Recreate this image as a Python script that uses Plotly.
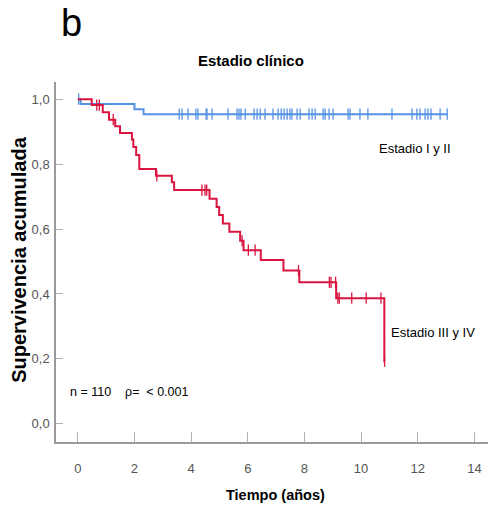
import plotly.graph_objects as go

# ---- data ----
blue_event_t = [0.10, 2.00, 2.32]
blue_event_s = [0.985, 0.969, 0.954]
blue_censor_t = [0.03, 3.58, 3.68, 3.89, 4.17, 4.24, 4.53, 4.56, 4.74, 5.30, 5.62, 5.69, 5.76,
                 5.91, 6.22, 6.33, 6.44, 6.61, 6.89, 7.07, 7.18, 7.28, 7.39, 7.49, 7.56, 7.74,
                 7.85, 8.16, 8.27, 8.38, 8.66, 8.73, 8.87, 9.01, 9.54, 9.61, 9.96, 10.24,
                 11.09, 11.80, 11.97, 12.08, 12.26, 12.36, 12.47, 12.79, 13.04]

red_event_t = [0.49, 0.88, 1.10, 1.32, 1.49, 1.91, 1.96, 2.06, 2.17, 2.76, 3.32, 3.40,
               4.65, 4.90, 4.99, 5.12, 5.35, 5.73, 5.85, 6.46, 7.26, 7.82, 9.12, 10.82]
red_event_s = [0.982, 0.960, 0.937, 0.917, 0.896, 0.876, 0.853, 0.828, 0.785, 0.764, 0.744, 0.720,
               0.693, 0.668, 0.643, 0.617, 0.592, 0.564, 0.535, 0.505, 0.472, 0.436, 0.387, 0.193]
red_censor_t = [0.67, 0.76, 1.25, 2.79, 4.38, 4.49, 4.55, 5.80, 6.02, 6.26, 7.79, 8.88, 8.94,
                9.10, 9.18, 9.23, 9.67, 10.18, 10.70, 10.83]

x_ticks = [0, 2, 4, 6, 8, 10, 12, 14]
y_ticks = [0.0, 0.2, 0.4, 0.6, 0.8, 1.0]
y_tick_text = ["0,0", "0,2", "0,4", "0,6", "0,8", "1,0"]

BLUE = "#5592e4"
RED = "#d9143f"
AX = "#9a9a9a"
FONT = "Liberation Sans, Arial"


def surv_at(t, ev_t, ev_s):
    s = 1.0
    for et, es in zip(ev_t, ev_s):
        if et <= t:
            s = es
    return s


def step_xy(ev_t, ev_s, cens_t):
    end = max(max(ev_t), max(cens_t))
    xs = [0.0] + list(ev_t) + [end]
    ys = [1.0] + list(ev_s) + [surv_at(end, ev_t, ev_s)]
    return xs, ys


fig = go.Figure()
for ev_t, ev_s, cens_t, col in [(blue_event_t, blue_event_s, blue_censor_t, BLUE),
                                (red_event_t, red_event_s, red_censor_t, RED)]:
    xs, ys = step_xy(ev_t, ev_s, cens_t)
    fig.add_trace(go.Scatter(x=xs, y=ys, mode="lines", line=dict(color=col, width=2, shape="hv"),
                             showlegend=False, hoverinfo="skip"))
    fig.add_trace(go.Scatter(x=cens_t, y=[surv_at(t, ev_t, ev_s) for t in cens_t], mode="markers",
                             marker=dict(symbol="line-ns", size=8, line=dict(color=col, width=1.3)),
                             showlegend=False, hoverinfo="skip"))


def ann(text, x, y, size, xref="paper", yref="paper", xanchor="center", angle=0, family=FONT):
    return dict(text=text, x=x, y=y, xref=xref, yref=yref, xanchor=xanchor, yanchor="middle",
                textangle=angle, showarrow=False, font=dict(family=family, size=size, color="black"))


fig.update_layout(
    width=488, height=510,
    margin=dict(l=56, r=0, t=82, b=68),
    paper_bgcolor="white", plot_bgcolor="white",
    showlegend=False,
    xaxis=dict(range=[-0.77, 14.48], tickvals=x_ticks, ticks="inside", ticklen=10, tickwidth=1.2,
               tickcolor="#b0b0b0", showline=True, linecolor=AX, linewidth=1.5, showgrid=False,
               zeroline=False, ticklabelstandoff=14,
               tickfont=dict(family=FONT, size=13, color="#555555")),
    yaxis=dict(range=[-0.056, 1.053], tickvals=y_ticks, ticktext=y_tick_text, ticks="inside",
               ticklen=7, tickwidth=1.2, tickcolor="#b0b0b0", showline=True, linecolor=AX,
               linewidth=1.5, showgrid=False, zeroline=False, ticklabelstandoff=2,
               tickfont=dict(family=FONT, size=13, color="#555555")),
    annotations=[
        ann("b", 0.037, 1.163, 38),
        ann("<b>Estadio clínico</b>", 0.451, 1.061, 15),
        ann("<b>Tiempo (años)</b>", 0.508, -0.147, 14.5),
        ann("<b>Supervivencia acumulada</b>", -0.0856, 0.506, 20, angle=-90),
        ann("Estadio I y II", 11.92, 0.848, 13, xref="x", yref="y"),
        ann("Estadio III y IV", 12.55, 0.281, 13, xref="x", yref="y"),
        ann("n = 110    ρ=  < 0.001", -0.33, 0.099, 12.5, xref="x", yref="y", xanchor="left"),
    ],
)

fig.write_html("out.html")
